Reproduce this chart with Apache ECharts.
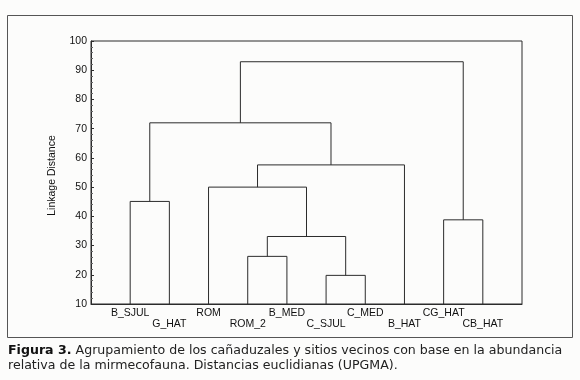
<!DOCTYPE html>
<html>
<head>
<meta charset="utf-8">
<script src="https://cdn.jsdelivr.net/npm/echarts@6/dist/echarts.min.js"></script>
<style>
  html, body { margin: 0; padding: 0; background: #fcfcfb; }
  #chart { width: 580px; height: 380px; }
</style>
</head>
<body>
<div id="chart"></div>
<script>
// leaves, left to right (x = 1..10)
const leaves = ['B_SJUL', 'G_HAT', 'ROM', 'ROM_2', 'B_MED', 'C_SJUL', 'C_MED', 'B_HAT', 'CG_HAT', 'CB_HAT']
// merges: node ids 0..9 are leaves, merge k makes node 10 + k
const mergeLeft = [0, 3, 5, 11, 2, 14, 10, 8, 16]
const mergeRight = [1, 4, 6, 12, 13, 7, 15, 9, 17]
const mergeHeight = [45.1, 26.3, 19.8, 33.1, 50.0, 57.6, 72.0, 38.8, 92.9]
const yTicks = [10, 100, 10] // min, max, step

const caption1 = '{b|Figura 3.} Agrupamiento de los cañaduzales y sitios vecinos con base en la abundancia'
const caption2 = 'relativa de la mirmecofauna. Distancias euclidianas (UPGMA).'

// node positions
const nodeX = leaves.map((_, i) => i + 1)
const nodeH = leaves.map(() => yTicks[0])
const links = []
mergeLeft.forEach((a, k) => {
  const b = mergeRight[k]
  links.push([nodeX[a], nodeH[a], nodeX[b], nodeH[b], mergeHeight[k]])
  nodeX.push((nodeX[a] + nodeX[b]) / 2)
  nodeH.push(mergeHeight[k])
})

const chart = echarts.init(document.getElementById('chart'))
const ink = '#2b2b2b'
const font = '"Liberation Sans", Arial, sans-serif'
const capFont = '"DejaVu Sans", sans-serif'

chart.setOption({
  backgroundColor: '#fcfcfb',
  animation: false,
  grid: {
    left: 91, right: 58, top: 41, bottom: 76,
    show: true, borderColor: ink, borderWidth: 1, backgroundColor: 'transparent'
  },
  xAxis: {
    type: 'value',
    min: 0, max: 11, interval: 1,
    splitLine: { show: false },
    axisLine: { lineStyle: { color: ink } },
    axisTick: { show: false },
    axisLabel: {
      color: '#111', fontFamily: font, fontSize: 10.5, lineHeight: 11, margin: 4,
      showMinLabel: true, showMaxLabel: true,
      formatter: v => {
        const name = leaves[v - 1]
        if (!name) return ''
        return v % 2 === 0 ? '\n' + name : name
      }
    }
  },
  yAxis: {
    type: 'value',
    min: yTicks[0], max: yTicks[1], interval: yTicks[2],
    name: 'Linkage Distance',
    nameLocation: 'middle',
    nameGap: 33,
    nameTextStyle: { color: '#111', fontFamily: font, fontSize: 10.5, padding: [0, 6, 0, 0] },
    splitLine: { show: false },
    axisLine: { lineStyle: { color: ink } },
    axisTick: { show: true, inside: true, length: 3, lineStyle: { color: ink } },
    minorTick: { show: true, splitNumber: 5, length: 2, lineStyle: { color: '#666' } },
    axisLabel: { color: '#111', fontFamily: font, fontSize: 10.5, margin: 4 }
  },
  series: [{
    type: 'custom',
    data: links,
    encode: { x: [0, 2], y: [1, 3, 4] },
    renderItem: (params, api) => {
      const h = api.value(4)
      const p1 = api.coord([api.value(0), api.value(1)])
      const p2 = api.coord([api.value(0), h])
      const p3 = api.coord([api.value(2), h])
      const p4 = api.coord([api.value(2), api.value(3)])
      return {
        type: 'polyline',
        shape: { points: [p1, p2, p3, p4] },
        style: { stroke: ink, lineWidth: 1, fill: null }
      }
    }
  }],
  graphic: [
    {
      type: 'rect',
      shape: { x: 7.5, y: 15.5, width: 565, height: 322 },
      style: { fill: null, stroke: '#555', lineWidth: 1 },
      z: -1
    },
    {
      type: 'text', left: 8, top: 344,
      style: {
        text: caption1,
        fill: '#222', font: '12.6px ' + capFont,
        rich: { b: { fontWeight: 'bold', fontSize: 12.6, fontFamily: capFont, fill: '#111' } }
      }
    },
    {
      type: 'text', left: 8, top: 359,
      style: { text: caption2, fill: '#222', font: '12.6px ' + capFont }
    }
  ]
})
</script>
</body>
</html>
